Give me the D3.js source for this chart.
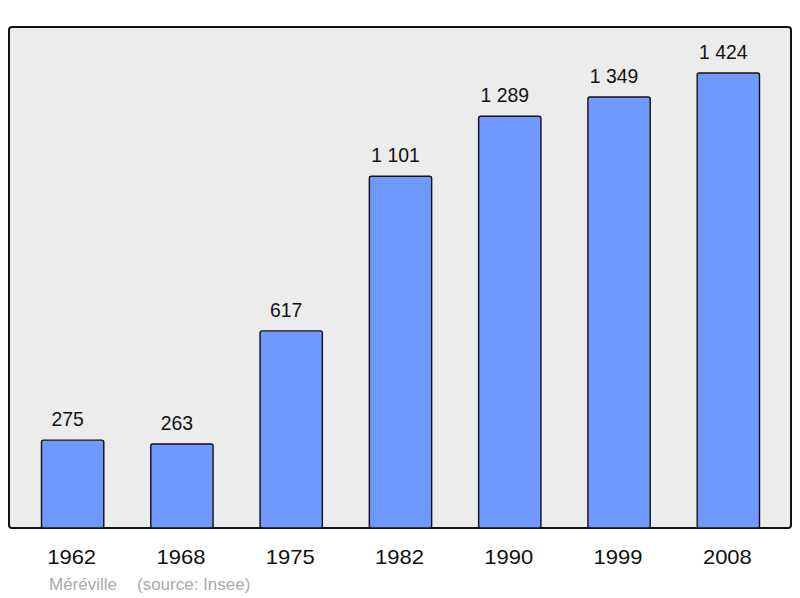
<!DOCTYPE html>
<html><head><meta charset="utf-8">
<script src="https://cdn.jsdelivr.net/npm/d3@7"></script>
<style>body{margin:0;background:#fff;}svg{display:block;font-family:"Liberation Sans",Arial,sans-serif;}</style>
</head><body>
<svg id="c" width="800" height="598"></svg>
<script>
const years = ["1962","1968","1975","1982","1990","1999","2008"];
const population = [275,263,617,1101,1289,1349,1424];
const labels = ["275","263","617","1 101","1 289","1 349","1 424"];
const footer = ["Méréville","(source: Insee)"];

const svg = d3.select("#c");
const frame = {x0:9, y0:27, x1:791, y1:528};
svg.append("rect").attr("x",frame.x0).attr("y",frame.y0)
  .attr("width",frame.x1-frame.x0).attr("height",frame.y1-frame.y0)
  .attr("rx",3).attr("fill","#ececec").attr("stroke","#111").attr("stroke-width",2);

const x = d3.scaleBand().domain(years).range([18,783]).paddingInner(0.43).paddingOuter(0.215);
const y = d3.scaleLinear().domain([0,1565]).range([frame.y1, frame.y1-500]);

svg.selectAll("rect.bar").data(years).enter().append("rect").attr("class","bar")
  .attr("x",d=>x(d)).attr("width",x.bandwidth())
  .attr("y",(d,i)=>y(population[i])).attr("height",(d,i)=>y(0)-y(population[i]))
  .attr("rx",2).attr("fill","#7099ff").attr("stroke","#111").attr("stroke-width",1.4);

svg.selectAll("text.val").data(years).enter().append("text").attr("class","val")
  .attr("transform",(d,i)=>`translate(${x(d)+x.bandwidth()/2-5},${y(population[i])-14}) scale(0.97,1)`)
  .attr("text-anchor","middle").attr("font-size",20).attr("fill","#111")
  .text((d,i)=>labels[i]);

svg.selectAll("text.yr").data(years).enter().append("text").attr("class","yr")
  .attr("transform",d=>`translate(${x(d)+x.bandwidth()/2-1},564) scale(1.1,1)`)
  .attr("text-anchor","middle").attr("font-size",20).attr("fill","#111")
  .text(d=>d);

svg.append("text").attr("x",49).attr("y",590).attr("font-size",17).attr("fill","#aaa").text(footer[0]);
svg.append("text").attr("x",137).attr("y",590).attr("font-size",17).attr("fill","#aaa").text(footer[1]);
</script>
</body></html>
